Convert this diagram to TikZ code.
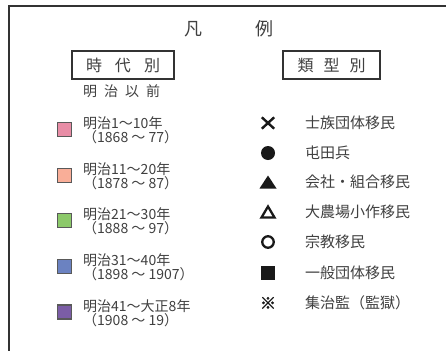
\documentclass[tikz,border=0pt]{standalone}
\usepackage{fontspec}
\newfontfamily\jp{Noto Sans CJK JP}
\newfontfamily\jpb[FakeBold=2.5]{Noto Sans CJK JP}
\usetikzlibrary{shapes.misc}
\definecolor{ink}{HTML}{404040}
\definecolor{framec}{HTML}{333333}
\definecolor{cA}{HTML}{E88DA6}
\definecolor{cB}{HTML}{F9AE98}
\definecolor{cC}{HTML}{8CC96A}
\definecolor{cD}{HTML}{6B82C1}
\definecolor{cE}{HTML}{7B5DA6}
\tikzset{
  frameline/.style={draw=framec, line width=2pt},
  titletxt/.style={text=ink, font=\jp\fontsize{18}{18}\selectfont, inner sep=0pt},
  hdrbox/.style={draw=framec, line width=1.8pt, text=ink, font=\jp\fontsize{16}{16}\selectfont, inner sep=0pt, minimum height=28pt},
  subtxt/.style={text=ink, font=\jp\fontsize{14}{14}\selectfont, inner sep=0pt},
  swatch/.style={draw=black!65, line width=1.2pt, minimum size=14pt, inner sep=0pt},
  eratxt/.style={text=ink, font=\jp\fontsize{14}{14}\selectfont, align=left, anchor=west, inner sep=0pt},
  typetxt/.style={text=ink, font=\jp\fontsize{15}{15}\selectfont, anchor=west, inner sep=0pt},
  symk/.style={fill=black!90, draw=none},
  symo/.style={draw=black!90, line width=2.3pt, fill=none},
}
\begin{document}
\begin{tikzpicture}[x=1pt,y=-1pt]
\useasboundingbox (0,0) rectangle (446,351);
\fill[white] (0,0) rectangle (446,351);
\draw[frameline] (446,6) -- (9,6) -- (9,351);
% title
\node[titletxt] (fan) at (193.5,29) {凡};
\node[titletxt] (rei) at (264,29) {例};
% headers
\node[hdrbox, minimum width=102pt] (jidai) at (123,65) {時\hspace{13pt}代\hspace{13pt}別};
\node[hdrbox, minimum width=97pt] (ruikei) at (331.5,65) {類\hspace{10pt}型\hspace{10pt}別};
\node[subtxt] (meijiizen) at (121.5,91) {明\hspace{7pt}治\hspace{7pt}以\hspace{7pt}前};
% era swatches
\node[swatch, fill=cA] (sA) at (64.5,129.5) {};
\node[swatch, fill=cB] (sB) at (64.5,175.5) {};
\node[swatch, fill=cC] (sC) at (64.5,220.5) {};
\node[swatch, fill=cD] (sD) at (64.5,266.5) {};
\node[swatch, fill=cE] (sE) at (64.5,312) {};
\node[eratxt] (tA) at (83,130.5) {明治1～10年\\（1868 ～ 77）};
\node[eratxt] (tB) at (83,176.5) {明治11～20年\\（1878 ～ 87）};
\node[eratxt] (tC) at (83,221.5) {明治21～30年\\（1888 ～ 97）};
\node[eratxt] (tD) at (83,267.5) {明治31～40年\\（1898 ～ 1907）};
\node[eratxt] (tE) at (83,313) {明治41～大正8年\\（1908 ～ 19）};
% type symbols
\node[cross out, draw=black!90, line width=2.4pt, minimum width=10pt, minimum height=9pt, inner sep=0pt] (y1) at (268,123) {};
\node[circle, symk, minimum size=14pt, inner sep=0pt] (y2) at (268,153) {};
\coordinate (y3) at (268,182);
\fill[symk, shift={(y3)}] (-8.5,6.5) -- (8.5,6.5) -- (0,-6.5) -- cycle;
\coordinate (y4) at (268,212);
\draw[symo, line join=miter, shift={(y4)}] (-6.5,5.5) -- (6.5,5.5) -- (0,-5.5) -- cycle;
\node[circle, symo, minimum size=11.5pt, inner sep=0pt] (y5) at (268,242) {};
\node[rectangle, symk, minimum size=14pt, inner sep=0pt] (y6) at (268,273) {};
\node[text=black!90, font=\jpb\fontsize{16}{16}\selectfont, inner sep=0pt] (y7) at (268,303) {※};
% type labels
\node[typetxt] (l1) at (305,123) {士族団体移民};
\node[typetxt] (l2) at (305,153) {屯田兵};
\node[typetxt] (l3) at (305,182) {会社・組合移民};
\node[typetxt] (l4) at (305,212) {大農場小作移民};
\node[typetxt] (l5) at (305,242) {宗教移民};
\node[typetxt] (l6) at (305,273) {一般団体移民};
\node[typetxt] (l7) at (305,303) {集治監（監獄）};
\end{tikzpicture}
\end{document}
